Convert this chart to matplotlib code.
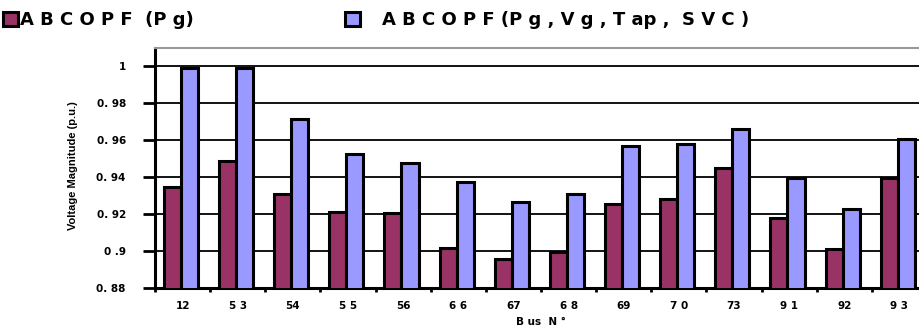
import numpy as np
import matplotlib
matplotlib.use("Agg")
import matplotlib.pyplot as plt

buses = ["12", "5 3", "54", "5 5", "56", "6 6", "67", "6 8", "69", "7 0", "73", "9 1", "92", "9 3"]
abc_pg = [0.935, 0.949, 0.931, 0.9215, 0.9205, 0.902, 0.8957, 0.8998, 0.9255, 0.928, 0.9451, 0.9178, 0.901, 0.9397]
abc_all = [0.9988, 0.9988, 0.9713, 0.9525, 0.9475, 0.9372, 0.9268, 0.9308, 0.9568, 0.9579, 0.9659, 0.9397, 0.9228, 0.9605]
series_labels = ["A B C O P F  (P g)", "A B C O P F (P g , V g , T ap ,  S V C )"]
y_ticks = [0.88, 0.90, 0.92, 0.94, 0.96, 0.98, 1.00]
y_tick_labels = ["0. 88", "0 .9", "0. 92", "0. 94", "0. 96", "0. 98", "1"]

plt.rcParams['font.family'] = ['DejaVu Sans']
plt.rcParams['font.weight'] = 'bold'

W, H = 920, 332
fig = plt.figure(figsize=(W / 100, H / 100), dpi=100)
ax = fig.add_axes([155 / W, (H - 288.3) / H, (927 - 155) / W, (288.3 - 48.3) / H])

x = np.arange(len(buses))
bw = 0.31
shift = -0.03
b1 = ax.bar(x - bw / 2 + shift, abc_pg, bw, color='#993366', edgecolor='black', linewidth=2.2, zorder=3)
b2 = ax.bar(x + bw / 2 + shift, abc_all, bw, color='#9999FF', edgecolor='black', linewidth=2.2, zorder=3)

ax.set_xlim(-0.5, len(buses) - 0.5)
ax.set_ylim(0.88, 1.0097)
ax.set_yticks(y_ticks)
ax.set_yticklabels(y_tick_labels, fontsize=7.5, fontweight='bold')
ax.set_xticks(x)
ax.set_xticklabels(buses, fontsize=7.5, fontweight='bold')
ax.set_xticks(np.arange(-0.5, len(buses), 1), minor=True)
ax.tick_params(axis='x', which='major', length=0, pad=9)
ax.tick_params(axis='x', which='minor', length=3, width=2, direction='out')
ax.tick_params(axis='y', which='major', length=9, width=2, direction='out', pad=12)

ax.set_axisbelow(True)
ax.yaxis.grid(True, color='black', linewidth=1.3)
ax.spines['right'].set_visible(False)
ax.spines['top'].set_color('#999999')
ax.spines['top'].set_linewidth(1.5)
ax.spines['left'].set_linewidth(2.2)
ax.spines['bottom'].set_linewidth(2.2)

fig.text(73 / W, 1 - 166 / H, "Voltage Magnitude (p.u.)", rotation=90, ha='center', va='center',
         fontsize=8, fontweight='bold', family=['Liberation Sans Narrow', 'Liberation Sans'])
fig.text(541 / W, 1 - 322 / H, "B us  N °", ha='center', va='center', fontsize=7.5, fontweight='bold')

common = dict(loc='upper left', frameon=False, prop={'family': 'DejaVu Sans', 'weight': 'bold', 'size': 13},
              handlelength=0.85, handleheight=0.85, borderaxespad=0, borderpad=0)
leg1 = fig.legend([b1], series_labels[:1], bbox_to_anchor=(3 / W, 1 - 11 / H), handletextpad=0.1, **common)
leg2 = fig.legend([b2], series_labels[1:], bbox_to_anchor=(345 / W, 1 - 11 / H), handletextpad=1.2, **common)

fig.savefig("out.png", dpi=100)
